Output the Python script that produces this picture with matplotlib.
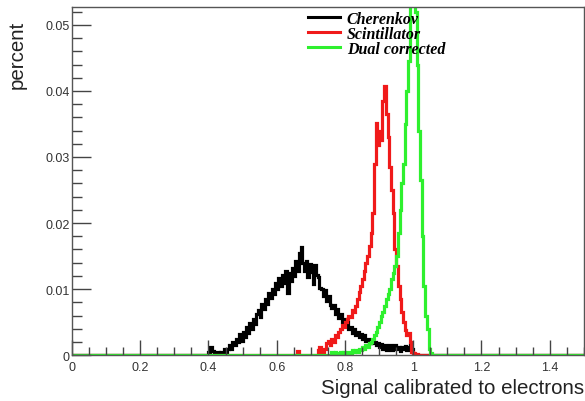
import numpy as np
import matplotlib
matplotlib.use('Agg')
from matplotlib import pyplot as plt
from matplotlib.ticker import MultipleLocator, FuncFormatter

# histogram binning (0 - 1.5, 0.005 per bin)
x_min = 0.0
x_max = 1.5
bin_width = 0.005

# Cherenkov, bins starting at 0.400
cherenkov_start = 0.400
cherenkov = [
	0.0005, 0.0012, 0.0007, 0.0, 0.0005, 0.0005, 0.0, 0.0005, 0.0005, 0.0010,
	0.0005, 0.0010, 0.0015, 0.0010, 0.0020, 0.0015, 0.0025, 0.0020, 0.0032, 0.0022,
	0.0035, 0.0028, 0.0042, 0.0033, 0.0048, 0.0040, 0.0055, 0.0047, 0.0062, 0.0068,
	0.0058, 0.0078, 0.0070, 0.0085, 0.0078, 0.0094, 0.0086, 0.0100, 0.0092, 0.0110,
	0.0100, 0.0117, 0.0105, 0.0122, 0.0110, 0.0127, 0.0094, 0.0124, 0.0112, 0.0132,
	0.0120, 0.0142, 0.0128, 0.0155, 0.0163, 0.0140, 0.0128, 0.0142, 0.0118, 0.0138,
	0.0126, 0.0108, 0.0136, 0.0122, 0.0118, 0.0102, 0.0100, 0.0090, 0.0098, 0.0082,
	0.0090, 0.0076, 0.0072, 0.0076, 0.0063, 0.0070, 0.0056, 0.0062, 0.0050, 0.0055,
	0.0044, 0.0050, 0.0039, 0.0043, 0.0034, 0.0040, 0.0030, 0.0035, 0.0027, 0.0032,
	0.0025, 0.0030, 0.0022, 0.0025, 0.0019, 0.0023, 0.0018, 0.0020, 0.0015, 0.0018,
	0.0012, 0.0017, 0.0010, 0.0015, 0.0008, 0.0013, 0.0015, 0.0008, 0.0012, 0.0016,
	0.0010, 0.0013, 0.0007, 0.0012, 0.0010, 0.0014, 0.0008, 0.0012, 0.0015, 0.0010,
]

# Scintillator, bins starting at 0.655
scint_start = 0.655
scintillator = [
	0.0, 0.0007, 0.0, 0.0, 0.0, 0.0, 0.0, 0.0, 0.0, 0.0,
	0.0, 0.0, 0.0, 0.0008, 0.0012, 0.0005, 0.0, 0.0010, 0.0018, 0.0022,
	0.0015, 0.0025, 0.0020, 0.0030, 0.0028, 0.0035, 0.0040, 0.0045, 0.0042, 0.0050,
	0.0055, 0.0060, 0.0058, 0.0068, 0.0065, 0.0075, 0.0085, 0.0095, 0.0105, 0.0115,
	0.0128, 0.0140, 0.0150, 0.0165, 0.0185, 0.0215, 0.0290, 0.0352, 0.0318, 0.0340,
	0.0325, 0.0385, 0.0408, 0.0365, 0.0330, 0.0285, 0.0250, 0.0215, 0.0160, 0.0135,
	0.0105, 0.0085, 0.0065, 0.0050, 0.0038, 0.0030, 0.0033, 0.0020, 0.0005, 0.0003,
	0.0002, 0.0002,
]

# Dual corrected, bins starting at 0.760
dual_start = 0.760
dual = [
	0.0005, 0.0003, 0.0005, 0.0003, 0.0, 0.0005, 0.0003, 0.0005, 0.0003, 0.0005,
	0.0005, 0.0003, 0.0008, 0.0005, 0.0008, 0.0005, 0.0010, 0.0008, 0.0012, 0.0010,
	0.0015, 0.0012, 0.0018, 0.0020, 0.0025, 0.0030, 0.0035, 0.0042, 0.0050, 0.0060,
	0.0065, 0.0075, 0.0085, 0.0092, 0.0100, 0.0115, 0.0125, 0.0135, 0.0150, 0.0185,
	0.0220, 0.0260, 0.0290, 0.0350, 0.0400, 0.0445, 0.0600, 0.0620, 0.0580, 0.0520,
	0.0440, 0.0340, 0.0265, 0.0180, 0.0105, 0.0060, 0.0040, 0.0010, 0.0003,
]

labels = ['Cherenkov', 'Scintillator', 'Dual corrected']
colors = ['black', '#f01a1a', '#2ef02e']


def full_hist(start, vals, edges):
	h = np.zeros(len(edges) - 1)
	i0 = int(round((start - x_min) / bin_width))
	h[i0:i0 + len(vals)] = vals
	return h


edges = np.linspace(x_min, x_max, int(round((x_max - x_min) / bin_width)) + 1)
series = [(cherenkov_start, cherenkov), (scint_start, scintillator), (dual_start, dual)]

fig = plt.figure(figsize=(5.85, 4.02), dpi=100)
ax = fig.add_axes([0.123, 0.114, 0.875, 0.866])

for (start, vals), lab, col in zip(series, labels, colors):
	ax.stairs(full_hist(start, vals, edges), edges, color=col, lw=2.3, label=lab)

ax.set_xlim(x_min, x_max)
ax.set_ylim(0, 0.0527)

ax.xaxis.set_major_locator(MultipleLocator(0.2))
ax.xaxis.set_minor_locator(MultipleLocator(0.05))
ax.yaxis.set_major_locator(MultipleLocator(0.01))
ax.yaxis.set_minor_locator(MultipleLocator(0.002))
fmt = FuncFormatter(lambda v, p: '%g' % round(v, 4))
ax.xaxis.set_major_formatter(fmt)
ax.yaxis.set_major_formatter(fmt)

ax.tick_params(which='both', direction='in', top=False, right=False,
	labelsize=9, colors='#444444', labelcolor='#333333', width=1)
ax.tick_params(axis='y', which='major', length=14, pad=1.5)
ax.tick_params(axis='y', which='minor', length=7)
ax.tick_params(axis='x', which='major', length=11, pad=4)
ax.tick_params(axis='x', which='minor', length=5.5)
for s in ax.spines.values():
	s.set_color('#555555')
	s.set_linewidth(1)

ax.set_xlabel('Signal calibrated to electrons', fontsize=14.8, family='Liberation Sans', color='#222222')
ax.xaxis.set_label_coords(1.0, -0.065)
ax.xaxis.label.set_horizontalalignment('right')
ax.set_ylabel('percent', fontsize=14.8, family='Liberation Sans', color='#222222')
ax.yaxis.set_label_coords(-0.088, 0.865)
for t in ax.get_xticklabels() + ax.get_yticklabels():
	t.set_family('Liberation Sans')

leg = ax.legend(loc='upper left', bbox_to_anchor=(0.462, 0.99), frameon=False,
	handlelength=2.0, handletextpad=0.4, labelspacing=-0.05, borderpad=0, borderaxespad=0,
	prop={'family': 'Liberation Serif', 'style': 'italic', 'weight': 'bold', 'size': 11.5})
for l in leg.get_lines():
	l.set_linewidth(2.2)

plt.savefig('out.png', dpi=100)
